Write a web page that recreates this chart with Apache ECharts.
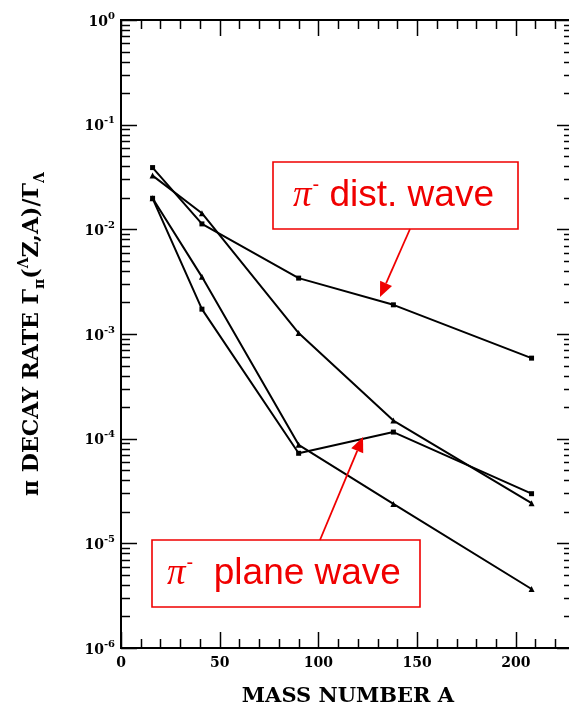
<!DOCTYPE html>
<html>
<head>
<meta charset="utf-8">
<script src="https://cdn.jsdelivr.net/npm/echarts@6/dist/echarts.min.js"></script>
<style>
  html, body { margin: 0; padding: 0; background: #fff; }
  #chart { width: 569px; height: 709px; }
</style>
</head>
<body>
<div id="chart"></div>
<script>
// Hypernuclear mass numbers
const massNumber = [16, 41, 90, 138, 208];

// Pionic decay rates (relative to the free Lambda width)
const piMinusDist  = [0.0389, 0.01127, 0.00342, 0.0019, 0.000588];
const curveTwo     = [0.0326, 0.01426, 0.00102, 0.000149, 0.0000242];
const piMinusPlane = [0.0198, 0.001727, 0.0000725, 0.0001156, 0.0000298];
const curveFour    = [0.0198, 0.003514, 0.0000874, 0.0000238, 0.00000366];

// Axis tick labels
const xTickLabels = [0, 50, 100, 150, 200];
const yDecades = [0, -1, -2, -3, -4, -5, -6];

const SERIF = 'DejaVu Serif';
const RED = '#f00000';

const chart = echarts.init(document.getElementById('chart'), null, { renderer: 'canvas' });

function pairs(ys) {
  return massNumber.map((a, i) => [a, ys[i]]);
}

// Tick marks drawn on all four sides of the frame
const tickItems = [];
for (let a = 0; a <= 220; a += 10) tickItems.push([a, 1e-3, 0, a % 50 === 0 ? 1 : 0]);
for (const e of yDecades) {
  for (let k = 1; k <= 9; k++) {
    const v = k * Math.pow(10, e);
    if (v <= 1.0000001) tickItems.push([100, v, 1, k === 1 ? 1 : 0]);
  }
}

function renderTick(params, api) {
  const cs = params.coordSys;
  const p = api.coord([api.value(0), api.value(1)]);
  const major = api.value(3) === 1;
  const style = { stroke: '#000', lineWidth: 1.5 };
  const len = major ? 16 : 9;
  if (api.value(2) === 0) {
    const x = Math.round(p[0]) + 0.5;
    const yb = cs.y + cs.height, yt = cs.y;
    return { type: 'group', children: [
      { type: 'line', shape: { x1: x, y1: yb, x2: x, y2: yb - len }, style },
      { type: 'line', shape: { x1: x, y1: yt, x2: x, y2: yt + len }, style }
    ]};
  }
  const y = Math.round(p[1]) + 0.5;
  const xl = cs.x, xr = cs.x + cs.width;
  return { type: 'group', children: [
    { type: 'line', shape: { x1: xl, y1: y, x2: xl + len, y2: y }, style },
    { type: 'line', shape: { x1: xr, y1: y, x2: xr - len, y2: y }, style }
  ]};
}

function lineSeries(name, ys, symbol, size) {
  return {
    name, type: 'line', data: pairs(ys),
    symbol, symbolSize: size, showSymbol: true,
    lineStyle: { color: '#000', width: 2 },
    itemStyle: { color: '#000' },
    silent: true, z: 3
  };
}

function arrow(x1, y1, x2, y2) {
  const dx = x2 - x1, dy = y2 - y1;
  const L = Math.hypot(dx, dy), ux = dx / L, uy = dy / L;
  const hl = 15, hw = 6.5;
  const bx = x2 - ux * hl, by = y2 - uy * hl;
  return [
    { type: 'line', z: 10, shape: { x1, y1, x2: bx, y2: by }, style: { stroke: RED, lineWidth: 1.8 } },
    { type: 'polygon', z: 10, shape: { points: [[x2, y2], [bx - uy * hw, by + ux * hw], [bx + uy * hw, by - ux * hw]] },
      style: { fill: RED } }
  ];
}

const noteRich = {
  p: { fontFamily: 'Liberation Serif', fontStyle: 'italic', fontSize: 37, fill: RED, lineHeight: 42 },
  m: { fontFamily: 'Liberation Sans', fontSize: 20, fill: RED, verticalAlign: 'top', lineHeight: 42, padding: [0, 0, 0, 1] },
  t: { fontFamily: 'Liberation Sans', fontSize: 37, fill: RED, lineHeight: 42 }
};

const titleRich = {
  b: { fontFamily: SERIF, fontWeight: 'bold', fontSize: 22, fill: '#000', lineHeight: 30 },
  sub: { fontFamily: SERIF, fontWeight: 'bold', fontSize: 14, fill: '#000', verticalAlign: 'bottom', lineHeight: 30 },
  sup: { fontFamily: SERIF, fontWeight: 'bold', fontSize: 14, fill: '#000', verticalAlign: 'top', lineHeight: 30 }
};

const option = {
  animation: false,
  backgroundColor: '#fff',
  grid: {
    left: 121, top: 20, width: 452, height: 628, outerBoundsMode: 'none', containLabel: false,
    show: true, borderColor: '#000', borderWidth: 2, backgroundColor: 'transparent'
  },
  xAxis: {
    type: 'value', min: 0, max: 229, interval: 50,
    axisLine: { show: false }, axisTick: { show: false }, splitLine: { show: false },
    axisLabel: {
      margin: 8, color: '#000', fontFamily: SERIF, fontWeight: 'bold', fontSize: 14,
      formatter: v => xTickLabels.includes(v) ? String(v) : ''
    }
  },
  yAxis: {
    type: 'log', logBase: 10, min: 1e-6, max: 1, splitNumber: 6,
    axisLine: { show: false }, axisTick: { show: false }, splitLine: { show: false },
    axisLabel: {
      margin: 6, color: '#000',
      formatter: v => '{b|10}{s|' + Math.round(Math.log10(v)) + '}',
      rich: {
        b: { fontFamily: SERIF, fontWeight: 'bold', fontSize: 14, lineHeight: 18, verticalAlign: 'bottom' },
        s: { fontFamily: SERIF, fontWeight: 'bold', fontSize: 10, lineHeight: 18, verticalAlign: 'top' }
      }
    }
  },
  series: [
    lineSeries('π⁻ dist. wave', piMinusDist, 'rect', 5),
    lineSeries('curve 2', curveTwo, 'triangle', 6),
    lineSeries('π⁻ plane wave', piMinusPlane, 'rect', 5),
    lineSeries('curve 4', curveFour, 'triangle', 6),
    {
      type: 'custom', data: tickItems, renderItem: renderTick,
      encode: { x: 0, y: 1 }, silent: true, clip: false, z: 4
    }
  ],
  graphic: [
    {
      type: 'text', x: 348, y: 697, z: 10,
      style: { text: 'MASS NUMBER A', fontFamily: SERIF, fontWeight: 'bold', fontSize: 21, fill: '#000', align: 'center', verticalAlign: 'middle' }
    },
    {
      type: 'text', x: 32, y: 334, rotation: Math.PI / 2, z: 10,
      style: {
        text: '{b|π DECAY RATE Γ}{sub|π}{b|(}{sup|Λ}{b|Z,A)/Γ}{sub|Λ}',
        rich: titleRich, align: 'center', verticalAlign: 'middle'
      }
    },
    { type: 'rect', z: 9, shape: { x: 273, y: 162, width: 245, height: 67 }, style: { fill: '#fff', stroke: RED, lineWidth: 1.6 } },
    {
      type: 'text', x: 293, y: 196, z: 10,
      style: { text: '{p|π}{m|-}{t| dist. wave}', rich: noteRich, verticalAlign: 'middle', align: 'left' }
    },
    { type: 'rect', z: 9, shape: { x: 152, y: 540, width: 268, height: 67 }, style: { fill: '#fff', stroke: RED, lineWidth: 1.6 } },
    {
      type: 'text', x: 167, y: 574, z: 10,
      style: { text: '{p|π}{m|-}{t|  plane wave}', rich: noteRich, verticalAlign: 'middle', align: 'left' }
    },
    ...arrow(410, 229, 380, 297),
    ...arrow(320, 540, 363, 437)
  ]
};

chart.setOption(option);
</script>
</body>
</html>
